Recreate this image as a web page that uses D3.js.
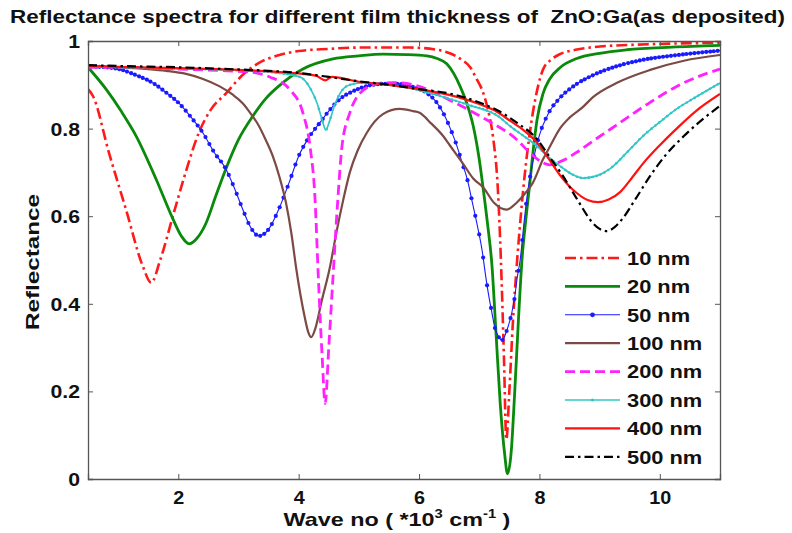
<!DOCTYPE html>
<html>
<head>
<meta charset="utf-8">
<script src="https://cdn.jsdelivr.net/npm/d3@7"></script>
<style>
  html, body { margin: 0; padding: 0; background: #fff; }
  svg { display: block; font-family: "Liberation Sans", Arial, sans-serif; }
</style>
</head>
<body>
<svg id="chart" width="792" height="533"></svg>
<script>
// Reflectance spectra, wave number in units of 10^3 cm^-1
const xTicks = [2, 4, 6, 8, 10];
const yTicks = [0, 0.2, 0.4, 0.6, 0.8, 1];
const yTickLabels = ["0", "0.2", "0.4", "0.6", "0.8", "1"];
const seriesNames = ["10 nm", "20 nm", "50 nm", "100 nm", "200 nm", "300 nm", "400 nm", "500 nm"];

const r10 = [[0.5,0.89],[0.58,0.875],[0.85,0.744],[1.13,0.616],[1.41,0.486],[1.55,0.448],[1.7,0.5],[1.91,0.6],[2.1,0.69],[2.34,0.79],[2.55,0.845],[2.79,0.88],[3.05,0.92],[3.34,0.95],[3.65,0.967],[4.0,0.977],[4.5,0.982],[5.0,0.985],[5.85,0.985],[6.3,0.98],[6.51,0.972],[6.7,0.958],[6.85,0.94],[6.95,0.915],[7.07,0.88],[7.15,0.84],[7.23,0.78],[7.31,0.66],[7.36,0.5],[7.41,0.28],[7.45,0.09],[7.5,0.2],[7.56,0.36],[7.63,0.5],[7.69,0.6],[7.76,0.7],[7.84,0.79],[7.95,0.88],[8.06,0.935],[8.2,0.958],[8.34,0.97],[8.6,0.98],[8.89,0.986],[9.5,0.991],[10.2,0.994],[11,0.996]];

const g20 = [[0.5,0.94],[0.8,0.89],[1.05,0.84],[1.3,0.783],[1.63,0.685],[1.91,0.594],[2.05,0.555],[2.18,0.537],[2.3,0.548],[2.46,0.584],[2.62,0.645],[2.79,0.708],[3.0,0.775],[3.24,0.829],[3.45,0.868],[3.67,0.897],[4.07,0.936],[4.57,0.959],[5.0,0.966],[5.4,0.97],[5.8,0.969],[6.13,0.966],[6.3,0.96],[6.46,0.948],[6.58,0.925],[6.68,0.897],[6.8,0.855],[6.9,0.806],[7.0,0.73],[7.06,0.669],[7.14,0.58],[7.21,0.49],[7.28,0.33],[7.35,0.17],[7.42,0.06],[7.47,0.012],[7.53,0.06],[7.59,0.2],[7.65,0.36],[7.71,0.5],[7.78,0.6],[7.84,0.675],[7.9,0.755],[7.96,0.82],[8.06,0.88],[8.17,0.913],[8.35,0.94],[8.62,0.96],[9.0,0.972],[9.45,0.98],[10.2,0.986],[11,0.99]];

const b50 = [[0.5,0.942],[0.8,0.94],[1.01,0.936],[1.3,0.922],[1.58,0.904],[1.8,0.882],[2.01,0.858],[2.2,0.828],[2.41,0.79],[2.6,0.745],[2.79,0.708],[2.93,0.665],[3.07,0.616],[3.2,0.575],[3.34,0.555],[3.5,0.57],[3.67,0.616],[3.85,0.68],[4.0,0.737],[4.17,0.78],[4.35,0.813],[4.5,0.84],[4.69,0.868],[4.9,0.885],[5.13,0.897],[5.4,0.902],[5.68,0.902],[5.9,0.895],[6.13,0.881],[6.28,0.862],[6.4,0.836],[6.52,0.8],[6.63,0.76],[6.72,0.72],[6.8,0.685],[6.88,0.635],[6.96,0.584],[7.05,0.52],[7.1,0.47],[7.15,0.425],[7.21,0.38],[7.26,0.345],[7.32,0.325],[7.38,0.317],[7.46,0.34],[7.54,0.379],[7.59,0.416],[7.63,0.459],[7.68,0.5],[7.74,0.58],[7.79,0.64],[7.9,0.73],[8.0,0.785],[8.15,0.835],[8.34,0.87],[8.6,0.9],[8.89,0.922],[9.3,0.943],[9.72,0.957],[10.3,0.968],[11,0.978]];

const br100 = [[0.5,0.942],[1.0,0.94],[1.5,0.936],[1.8,0.932],[2.13,0.925],[2.4,0.914],[2.68,0.897],[2.9,0.878],[3.07,0.858],[3.2,0.835],[3.34,0.806],[3.45,0.775],[3.57,0.737],[3.68,0.69],[3.79,0.63],[3.88,0.56],[3.96,0.48],[4.03,0.42],[4.1,0.37],[4.16,0.335],[4.21,0.324],[4.28,0.345],[4.38,0.405],[4.52,0.484],[4.63,0.565],[4.74,0.637],[4.85,0.7],[4.98,0.75],[5.13,0.79],[5.4,0.833],[5.68,0.845],[5.9,0.84],[6.01,0.836],[6.2,0.812],[6.4,0.783],[6.51,0.762],[6.73,0.72],[6.9,0.686],[7.07,0.665],[7.25,0.63],[7.45,0.615],[7.63,0.632],[7.75,0.65],[7.89,0.676],[8.06,0.73],[8.17,0.758],[8.34,0.80],[8.5,0.825],[8.72,0.849],[8.89,0.872],[9.28,0.904],[9.84,0.934],[10.4,0.955],[11,0.968]];

const m200 = [[0.5,0.94],[1,0.94],[2,0.936],[2.8,0.932],[3.19,0.929],[3.52,0.918],[3.86,0.888],[4.07,0.836],[4.19,0.758],[4.27,0.644],[4.33,0.45],[4.39,0.28],[4.44,0.172],[4.5,0.3],[4.57,0.46],[4.65,0.637],[4.72,0.76],[4.85,0.836],[5.02,0.881],[5.3,0.902],[5.57,0.905],[5.9,0.9],[6.13,0.89],[6.51,0.865],[7.07,0.824],[7.63,0.774],[7.84,0.745],[8.06,0.722],[8.17,0.717],[8.4,0.728],[8.62,0.746],[9.0,0.782],[9.28,0.808],[9.84,0.86],[10.39,0.904],[11,0.936]];

const c300 = [[0.5,0.942],[1,0.94],[2,0.937],[3,0.933],[3.6,0.928],[4.02,0.918],[4.2,0.89],[4.3,0.86],[4.39,0.82],[4.45,0.797],[4.52,0.82],[4.6,0.855],[4.69,0.881],[4.85,0.9],[5.1,0.905],[5.5,0.9],[6.0,0.888],[6.23,0.879],[6.8,0.855],[7.34,0.826],[7.51,0.806],[7.75,0.782],[7.96,0.76],[8.15,0.735],[8.34,0.715],[8.55,0.695],[8.72,0.687],[8.95,0.692],[9.17,0.708],[9.45,0.745],[9.72,0.783],[10.0,0.815],[10.28,0.845],[10.6,0.872],[11,0.904]];

const rd400 = [[0.5,0.943],[1,0.941],[2,0.938],[3,0.934],[3.6,0.93],[4.0,0.926],[4.3,0.92],[4.44,0.91],[4.55,0.918],[5.0,0.907],[5.5,0.9],[6.0,0.89],[6.5,0.877],[7.0,0.856],[7.3,0.838],[7.51,0.818],[7.75,0.795],[7.96,0.768],[8.15,0.732],[8.34,0.694],[8.5,0.668],[8.62,0.653],[8.8,0.637],[8.97,0.632],[9.15,0.638],[9.34,0.655],[9.55,0.69],[9.72,0.72],[10.0,0.762],[10.28,0.80],[10.6,0.84],[11,0.879]];

const bk500 = [[0.5,0.945],[1,0.943],[2,0.94],[3,0.935],[3.5,0.932],[4,0.927],[4.5,0.918],[5,0.908],[5.5,0.9],[6,0.89],[6.51,0.88],[7.07,0.856],[7.3,0.842],[7.63,0.813],[7.96,0.776],[8.17,0.735],[8.39,0.692],[8.62,0.64],[8.89,0.584],[9.0,0.571],[9.12,0.566],[9.25,0.575],[9.39,0.596],[9.6,0.64],[9.84,0.692],[10.1,0.74],[10.4,0.783],[10.7,0.82],[11,0.852]];

const seriesData = [r10, g20, b50, br100, m200, c300, rd400, bk500];

// line styles for each thickness
const styles = [
  { color: "#ff1a1a", width: 2.6, dash: "11,4,2.5,4", marker: 0 },
  { color: "#0a8a0a", width: 2.8, dash: null, marker: 0 },
  { color: "#1a1aff", width: 1.1, dash: null, marker: 2.1 },
  { color: "#7c4a44", width: 2.2, dash: null, marker: 0 },
  { color: "#ff22ff", width: 2.8, dash: "10,5", marker: 0 },
  { color: "#33c6c6", width: 1.7, dash: null, marker: 1.3 },
  { color: "#ff1111", width: 2.2, dash: null, marker: 0 },
  { color: "#000000", width: 2.2, dash: "9,4,2.5,4", marker: 0 }
];

const svg = d3.select("#chart");
const plotLeft = 88, plotRight = 720, plotTop = 41, plotBottom = 479;
const x = d3.scaleLinear().domain([0.5, 11]).range([plotLeft, plotRight]);
const y = d3.scaleLinear().domain([0, 1]).range([plotBottom, plotTop]);

// widen bold labels to the broad lettering of the figure
function widen(sel, k) {
  sel.each(function () {
    const w = this.getComputedTextLength();
    d3.select(this).attr("textLength", w * k).attr("lengthAdjust", "spacingAndGlyphs");
  });
}

svg.append("defs").append("clipPath").attr("id", "plotClip")
  .append("rect").attr("x", plotLeft).attr("y", plotTop)
  .attr("width", plotRight - plotLeft).attr("height", plotBottom - plotTop);

const line = d3.line().x(d => x(d[0])).y(d => y(d[1])).curve(d3.curveMonotoneX);
const plot = svg.append("g").attr("clip-path", "url(#plotClip)");

seriesData.forEach((data, i) => {
  const s = styles[i];
  const path = plot.append("path")
    .datum(data)
    .attr("d", line)
    .attr("fill", "none")
    .attr("stroke", s.color)
    .attr("stroke-width", s.width)
    .attr("stroke-linejoin", "round")
    .attr("stroke-dasharray", s.dash);
  if (s.marker) {
    // dot markers at evenly spaced wave numbers along the drawn curve
    const node = path.node();
    const L = node.getTotalLength();
    const samples = [];
    for (let l = 0; l <= L; l += 0.5) samples.push(node.getPointAtLength(l));
    const marks = [];
    d3.range(0.5, 11.001, 0.065).forEach(v => {
      const px = x(v);
      let best = samples[0], bd = Infinity;
      for (const p of samples) { const dd = Math.abs(p.x - px); if (dd < bd) { bd = dd; best = p; } }
      marks.push(best);
    });
    plot.append("g").selectAll("circle").data(marks).join("circle")
      .attr("cx", d => d.x).attr("cy", d => d.y).attr("r", s.marker)
      .attr("fill", s.color);
  }
});

// axes with inward ticks and a full box
const axisColor = "#555";
const gx = svg.append("g").attr("transform", `translate(0,${plotBottom})`)
  .call(d3.axisBottom(x).tickValues(xTicks).tickSize(-5).tickPadding(12).tickFormat(d3.format("d")));
const gxTop = svg.append("g").attr("transform", `translate(0,${plotTop})`)
  .call(d3.axisTop(x).tickValues(xTicks).tickSize(-5).tickFormat(""));
const gy = svg.append("g").attr("transform", `translate(${plotLeft},0)`)
  .call(d3.axisLeft(y).tickValues(yTicks).tickSize(-5).tickPadding(8).tickFormat((d, i) => yTickLabels[i]));
const gyRight = svg.append("g").attr("transform", `translate(${plotRight},0)`)
  .call(d3.axisRight(y).tickValues(yTicks).tickSize(-5).tickFormat(""));

[gx, gxTop, gy, gyRight].forEach(g => {
  g.select(".domain").attr("stroke", axisColor).attr("stroke-width", 1.3);
  g.selectAll(".tick line").attr("stroke", axisColor).attr("stroke-width", 1);
  g.selectAll(".tick text").attr("fill", "#111").attr("font-size", 18).attr("font-weight", "bold")
    .attr("font-family", "Liberation Sans, Arial, sans-serif");
});
gy.selectAll(".tick text").attr("dy", "0.36em");
widen(gx.selectAll(".tick text"), 1.1);
widen(gy.selectAll(".tick text"), 1.18);

// title
svg.append("text")
  .attr("x", 10).attr("y", 23)
  .attr("font-size", 19).attr("font-weight", "bold").attr("fill", "#111")
  .attr("textLength", 775).attr("lengthAdjust", "spacingAndGlyphs")
  .attr("xml:space", "preserve")
  .text("Reflectance spectra for different film thickness of  ZnO:Ga(as deposited)");

// axis labels
svg.append("text")
  .attr("transform", `translate(39,262) rotate(-90)`)
  .attr("text-anchor", "middle")
  .attr("font-size", 19).attr("font-weight", "bold").attr("fill", "#111")
  .attr("textLength", 136).attr("lengthAdjust", "spacingAndGlyphs")
  .text("Reflectance");

const xlGroup = svg.append("g");
const xl = xlGroup.append("text")
  .attr("x", 0).attr("y", 0)
  .attr("text-anchor", "middle")
  .attr("font-size", 19).attr("font-weight", "bold").attr("fill", "#111")
  .attr("xml:space", "preserve");
xl.append("tspan").text("Wave no ( *10");
xl.append("tspan").attr("font-size", 12).attr("dy", -8).text("3");
xl.append("tspan").attr("dy", 8).text(" cm");
xl.append("tspan").attr("font-size", 12).attr("dy", -8).text("-1");
xl.append("tspan").attr("dy", 8).text(" )");
const xlw = xl.node().getBBox().width;
xlGroup.attr("transform", `translate(397,526) scale(${227 / xlw},1)`);

// legend
const legend = svg.append("g");
seriesNames.forEach((name, i) => {
  const s = styles[i];
  const ly = 258 + i * 28.4;
  legend.append("line")
    .attr("x1", 565).attr("x2", 620).attr("y1", ly).attr("y2", ly)
    .attr("stroke", s.color).attr("stroke-width", s.width)
    .attr("stroke-dasharray", s.dash);
  if (s.marker) {
    legend.append("circle").attr("cx", 592.5).attr("cy", ly).attr("r", s.marker + 0.3).attr("fill", s.color);
  }
  legend.append("text")
    .attr("x", 627).attr("y", ly).attr("dy", "0.36em")
    .attr("font-size", 19).attr("font-weight", "bold").attr("fill", "#111")
    .text(name);
});
widen(legend.selectAll("text"), 1.15);
</script>
</body>
</html>
